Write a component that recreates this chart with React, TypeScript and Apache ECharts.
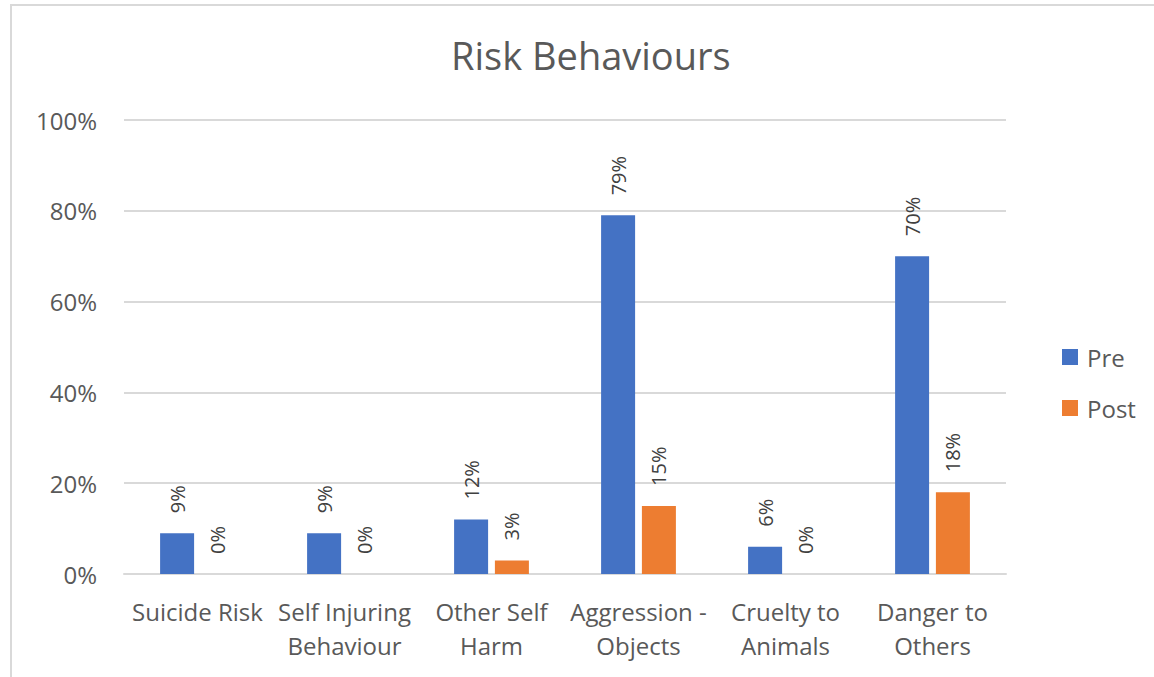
import React, { useEffect, useRef } from "react";
import * as echarts from "echarts";

const categories = [
  "Suicide Risk",
  "Self Injuring\nBehaviour",
  "Other Self\nHarm",
  "Aggression -\nObjects",
  "Cruelty to\nAnimals",
  "Danger to\nOthers",
];
const preValues = [9, 9, 12, 79, 6, 70];
const postValues = [0, 0, 3, 15, 0, 18];
const yTicks = [0, 20, 40, 60, 80, 100];

const FONT = "'Open Sans', 'Noto Sans', sans-serif";

export default function App() {
  const ref = useRef<HTMLDivElement>(null);
  useEffect(() => {
    document.body.style.margin = "0";
    const chart = echarts.init(ref.current!, null, { renderer: "svg" });
    const label = {
      show: true,
      position: "top",
      rotate: 90,
      align: "left",
      verticalAlign: "middle",
      distance: 20,
      formatter: "{c}%",
      color: "#404040",
      fontSize: 20,
      fontFamily: FONT,
    };
    chart.setOption({
      animation: false,
      backgroundColor: "#ffffff",
      title: {
        text: "Risk Behaviours",
        left: 446,
        top: 31,
        textStyle: { color: "#595959", fontSize: 38, fontWeight: "normal", fontFamily: FONT },
      },
      graphic: [
        {
          type: "rect",
          shape: { x: 11, y: 5, width: 1300, height: 900 },
          style: { fill: "none", stroke: "#d9d9d9", lineWidth: 2 },
          silent: true,
        },
      ],
      legend: {
        orient: "vertical",
        left: 1057,
        top: 340,
        itemGap: 27,
        itemWidth: 16,
        itemHeight: 16,
        icon: "rect",
        textStyle: { color: "#595959", fontSize: 24, fontFamily: FONT, padding: [0, 0, 0, 4] },
        data: ["Pre", "Post"],
      },
      grid: { left: 124, right: 148, top: 120, bottom: 103, containLabel: false },
      xAxis: {
        type: "category",
        data: categories,
        axisLine: { lineStyle: { color: "#d9d9d9", width: 2 } },
        axisTick: { show: false },
        axisLabel: {
          color: "#595959",
          fontSize: 24,
          fontFamily: FONT,
          lineHeight: 34,
          margin: 20,
          interval: 0,
        },
      },
      yAxis: {
        type: "value",
        min: 0,
        max: 100,
        interval: 20,
        axisLine: { show: false },
        axisTick: { show: false },
        splitLine: { lineStyle: { color: "#d9d9d9", width: 2 } },
        axisLabel: {
          color: "#595959",
          fontSize: 24,
          fontFamily: FONT,
          margin: 27,
          formatter: (v: number) => (yTicks.includes(v) ? v + "%" : ""),
        },
      },
      series: [
        {
          name: "Pre",
          type: "bar",
          data: preValues,
          barWidth: 34,
          barGap: "20%",
          itemStyle: { color: "#4472C4" },
          label,
        },
        {
          name: "Post",
          type: "bar",
          data: postValues,
          barWidth: 34,
          itemStyle: { color: "#ED7D31" },
          label,
        },
      ],
    });
    return () => chart.dispose();
  }, []);
  return <div ref={ref} style={{ width: 1154, height: 677 }} />;
}
